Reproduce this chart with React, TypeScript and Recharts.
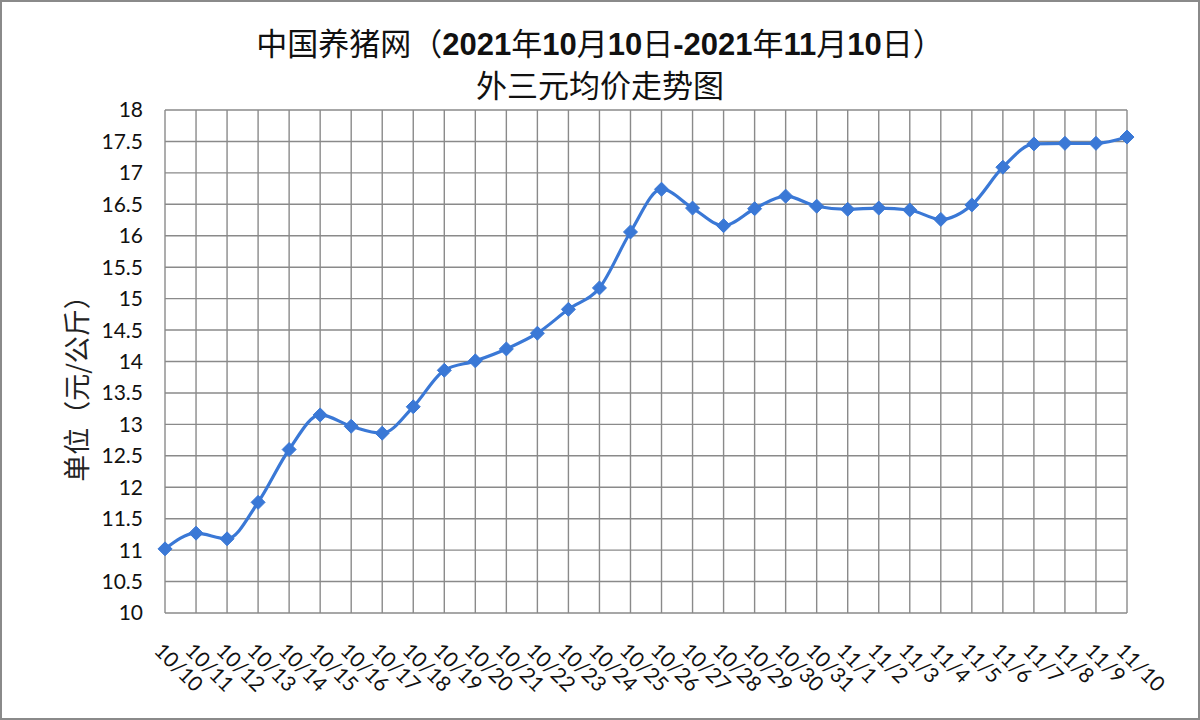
import React from 'react';
import { LineChart, Line, XAxis, YAxis, CartesianGrid } from 'recharts';

const categories = [
  '10/10', '10/11', '10/12', '10/13', '10/14', '10/15', '10/16', '10/17', '10/18', '10/19', '10/20',
  '10/21', '10/22', '10/23', '10/24', '10/25', '10/26', '10/27', '10/28', '10/29', '10/30', '10/31',
  '11/1', '11/2', '11/3', '11/4', '11/5', '11/6', '11/7', '11/8', '11/9', '11/10',
];

const prices = [
  11.02, 11.27, 11.18, 11.76, 12.6, 13.15, 12.97, 12.86, 13.28, 13.86, 14.01,
  14.2, 14.45, 14.83, 15.17, 16.06, 16.74, 16.44, 16.16, 16.43, 16.63, 16.47,
  16.42, 16.44, 16.41, 16.26, 16.49, 17.09, 17.46, 17.47, 17.47, 17.57,
];

const yTicks = [10, 10.5, 11, 11.5, 12, 12.5, 13, 13.5, 14, 14.5, 15, 15.5, 16, 16.5, 17, 17.5, 18];

const titleLine1 = '中国养猪网（2021年10月10日-2021年11月10日）';
const titleLine2 = '外三元均价走势图';
const yAxisLabel = '单位（元/公斤）';

const data = categories.map((date, i) => ({ date, price: prices[i] }));

const LINE_COLOR = '#3a78d6';
const GRID_COLOR = '#8a8a8a';

const XTick = (props: any) => {
  const { x, y, payload } = props;
  const tx = x - 12;
  const ty = y + 39;
  return (
    <text
      x={tx}
      y={ty}
      transform={`rotate(45, ${tx}, ${ty})`}
      textAnchor="start"
      fontFamily="Lato, 'Noto Sans', sans-serif"
      fontSize={21}
      fill="#111"
    >
      {payload.value}
    </text>
  );
};

const Diamond = (props: any) => {
  const { cx, cy } = props;
  if (cx == null || cy == null) return null;
  const r = 7;
  return (
    <polygon
      points={`${cx},${cy - r} ${cx + r},${cy} ${cx},${cy + r} ${cx - r},${cy}`}
      fill={LINE_COLOR}
      stroke={LINE_COLOR}
      strokeWidth={1}
    />
  );
};

const renderTitle = (s: string) => {
  const parts = s.split(/([0-9\-]+)/);
  return parts.map((p, i) =>
    /[0-9\-]/.test(p) ? (
      <span key={i} style={{ fontWeight: 700, fontFamily: "'Liberation Sans Narrow', 'Liberation Sans', sans-serif" }}>
        {p}
      </span>
    ) : (
      <span key={i}>{p}</span>
    )
  );
};

const titleStyle: React.CSSProperties = {
  position: 'absolute',
  left: -2,
  width: 1200,
  height: 40,
  lineHeight: '40px',
  textAlign: 'center',
  fontFamily: "'Noto Sans CJK SC', sans-serif",
  fontSize: 31,
  color: '#111',
  whiteSpace: 'nowrap',
};

export default function App() {
  return (
    <div
      style={{
        position: 'absolute',
        left: 0,
        top: 0,
        width: 1200,
        height: 720,
        background: '#fff',
        boxSizing: 'border-box',
        border: '2px solid #8a8a8a',
        overflow: 'hidden',
      }}
    >
      <div style={{ ...titleStyle, top: 42 - 20 - 2 }}>{renderTitle(titleLine1)}</div>
      <div style={{ ...titleStyle, top: 84 - 20 - 2 }}>{titleLine2}</div>
      <div
        style={{
          position: 'absolute',
          left: 76 - 150 - 2,
          top: 382 - 20 - 2,
          width: 300,
          height: 40,
          lineHeight: '40px',
          textAlign: 'center',
          transform: 'rotate(-90deg)',
          fontFamily: "'Noto Sans CJK SC', sans-serif",
          fontSize: 27,
          color: '#222',
        }}
      >
        {yAxisLabel}
      </div>
      <div style={{ position: 'absolute', left: -2, top: -2 }}>
        <LineChart
          width={1200}
          height={720}
          data={data}
          margin={{ top: 110, right: 73, bottom: 0, left: 0 }}
        >
          <CartesianGrid stroke={GRID_COLOR} strokeWidth={1.4} />
          <XAxis
            dataKey="date"
            interval={0}
            height={107}
            axisLine={false}
            tickLine={false}
            tickSize={0}
            tickMargin={0}
            tick={<XTick />}
          />
          <YAxis
            type="number"
            domain={[10, 18]}
            ticks={yTicks}
            interval={0}
            width={165}
            axisLine={false}
            tickLine={false}
            tickMargin={16}
            tick={{ fontFamily: "Lato, 'Noto Sans', sans-serif", fontSize: 21, fill: '#111' }}
          />
          <Line
            type="monotone"
            dataKey="price"
            stroke={LINE_COLOR}
            strokeWidth={3.2}
            dot={<Diamond />}
            activeDot={false}
            isAnimationActive={false}
          />
        </LineChart>
      </div>
    </div>
  );
}
